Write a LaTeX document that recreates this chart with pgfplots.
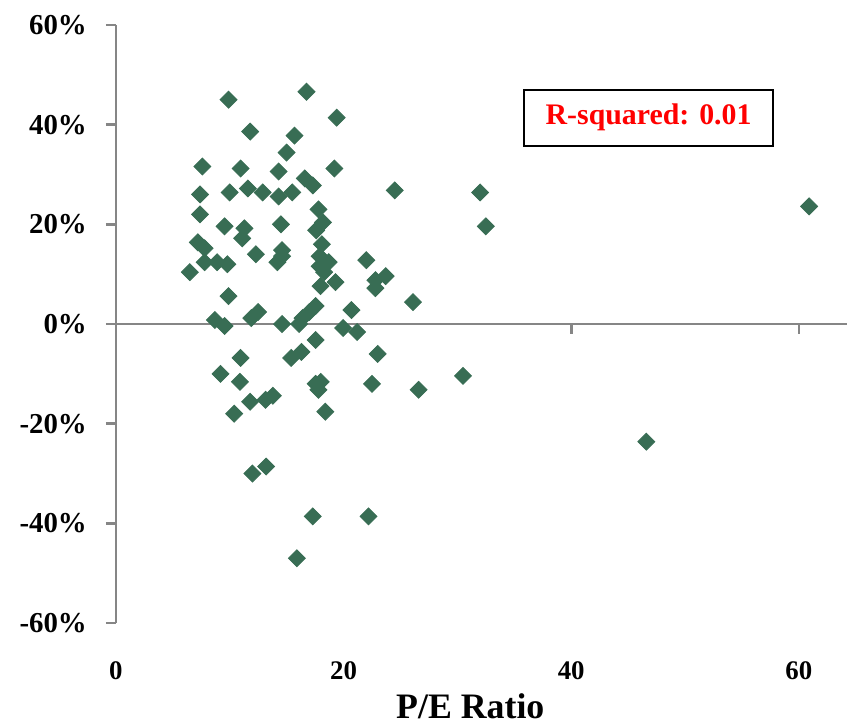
\documentclass[border=0pt]{standalone}
\usepackage{pgfplots}
\pgfplotsset{compat=1.18}
\usepackage{fontspec}
\setmainfont{Liberation Serif}
\definecolor{mk}{RGB}{56,109,84}
\definecolor{ax}{RGB}{134,134,134}
\begin{document}
\begin{tikzpicture}
\begin{axis}[
  at={(0,0)}, anchor=south west,
  scale only axis, width=366bp, height=299.5bp,
  xmin=0, xmax=64.2, ymin=-60, ymax=60,
  axis lines=left, axis line style={-},
  x axis line style={draw=none},
  y axis line style={ax, line width=1.3bp},
  xtick={0,20,40,60}, xticklabels={0,20,40,60},
  xtick style={draw=none},
  ytick={-60,-40,-20,0,20,40,60},
  yticklabels={-60\%,-40\%,-20\%,0\%,20\%,40\%,60\%},
  ytick style={ax, line width=1.3bp},
  tick align=outside, major tick length=5bp,
  yticklabel style={font=\fontsize{14.5}{16}\selectfont\bfseries, xshift=-6bp},
  xticklabel style={font=\fontsize{13.5}{16}\selectfont\bfseries, anchor=base, yshift=-23.5bp},
  xlabel={P/E Ratio},
  xlabel style={font=\fontsize{18}{20}\selectfont\bfseries, at={(axis description cs:0.485,0)}, anchor=base, yshift=-48bp},
  clip=false,
]
\draw[ax, line width=1.3bp] (axis cs:0,0) -- (axis cs:64.2,0);
\draw[ax, line width=1.3bp] (axis cs:20,0) -- ([yshift=-5bp]axis cs:20,0);
\draw[ax, line width=1.3bp] (axis cs:40,0) -- ([yshift=-5bp]axis cs:40,0);
\draw[ax, line width=1.3bp] (axis cs:60,0) -- ([yshift=-5bp]axis cs:60,0);
\addplot[only marks, mark=square*, mark size=3bp, mark options={rotate=45, fill=mk, draw=mk}] coordinates {
(9.9,45) (16.75,46.6) (11.8,38.6) (15.7,37.8) (19.4,41.4) (15.0,34.4)
(7.6,31.6) (10.96,31.2) (14.3,30.6) (19.2,31.2) (16.6,29.2) (17.3,27.8)
(7.4,26) (10.0,26.4) (11.6,27.2) (12.9,26.4) (14.3,25.6) (15.5,26.4)
(24.5,26.8) (32.0,26.4) (60.9,23.6) (17.8,23) (7.4,22) (32.5,19.6)
(9.55,19.6) (11.3,19.2) (14.5,20) (18.2,20.4) (17.6,18.8) (11.1,17.2)
(7.2,16.4) (7.8,15.2) (18.1,16) (14.6,14.8) (12.3,14) (14.6,13.6)
(17.9,13.6) (7.8,12.4) (8.9,12.4) (9.8,12) (14.2,12.4) (18.7,12.4)
(22.0,12.8) (6.5,10.4) (17.9,11.6) (18.3,10.4) (23.7,9.6) (22.8,8.8)
(19.3,8.4) (17.98,7.6) (22.8,7.2) (9.9,5.6) (26.1,4.4) (17.55,3.6)
(17.0,2.4) (20.7,2.8) (12.5,2.4) (11.9,1.2) (8.7,0.8) (9.55,-0.4)
(14.6,0) (16.4,1.2) (16.1,0) (19.97,-0.8) (21.2,-1.6) (10.96,-6.8)
(23.0,-6) (15.4,-6.8) (16.3,-5.6) (17.55,-3.2) (9.2,-10) (10.9,-11.6)
(30.5,-10.4) (17.55,-12) (18.0,-11.6) (17.8,-13.2) (22.5,-12) (26.6,-13.2)
(11.8,-15.6) (13.15,-15.2) (13.8,-14.4) (10.4,-18) (18.4,-17.6) (46.6,-23.6)
(12.0,-30) (13.2,-28.6) (17.3,-38.6) (22.2,-38.6) (15.9,-47)
};
\node[draw=black, line width=1bp, fill=white, text=red,
  font=\fontsize{15}{17}\selectfont\bfseries,
  minimum width=124.5bp, minimum height=28bp, inner sep=0pt]
  at (axis cs:46.8,41.4) {R-squared: 0.01};
\end{axis}
\path[use as bounding box] (-58bp,-49.5bp) rectangle (366bp,312bp);
\end{tikzpicture}
\end{document}
